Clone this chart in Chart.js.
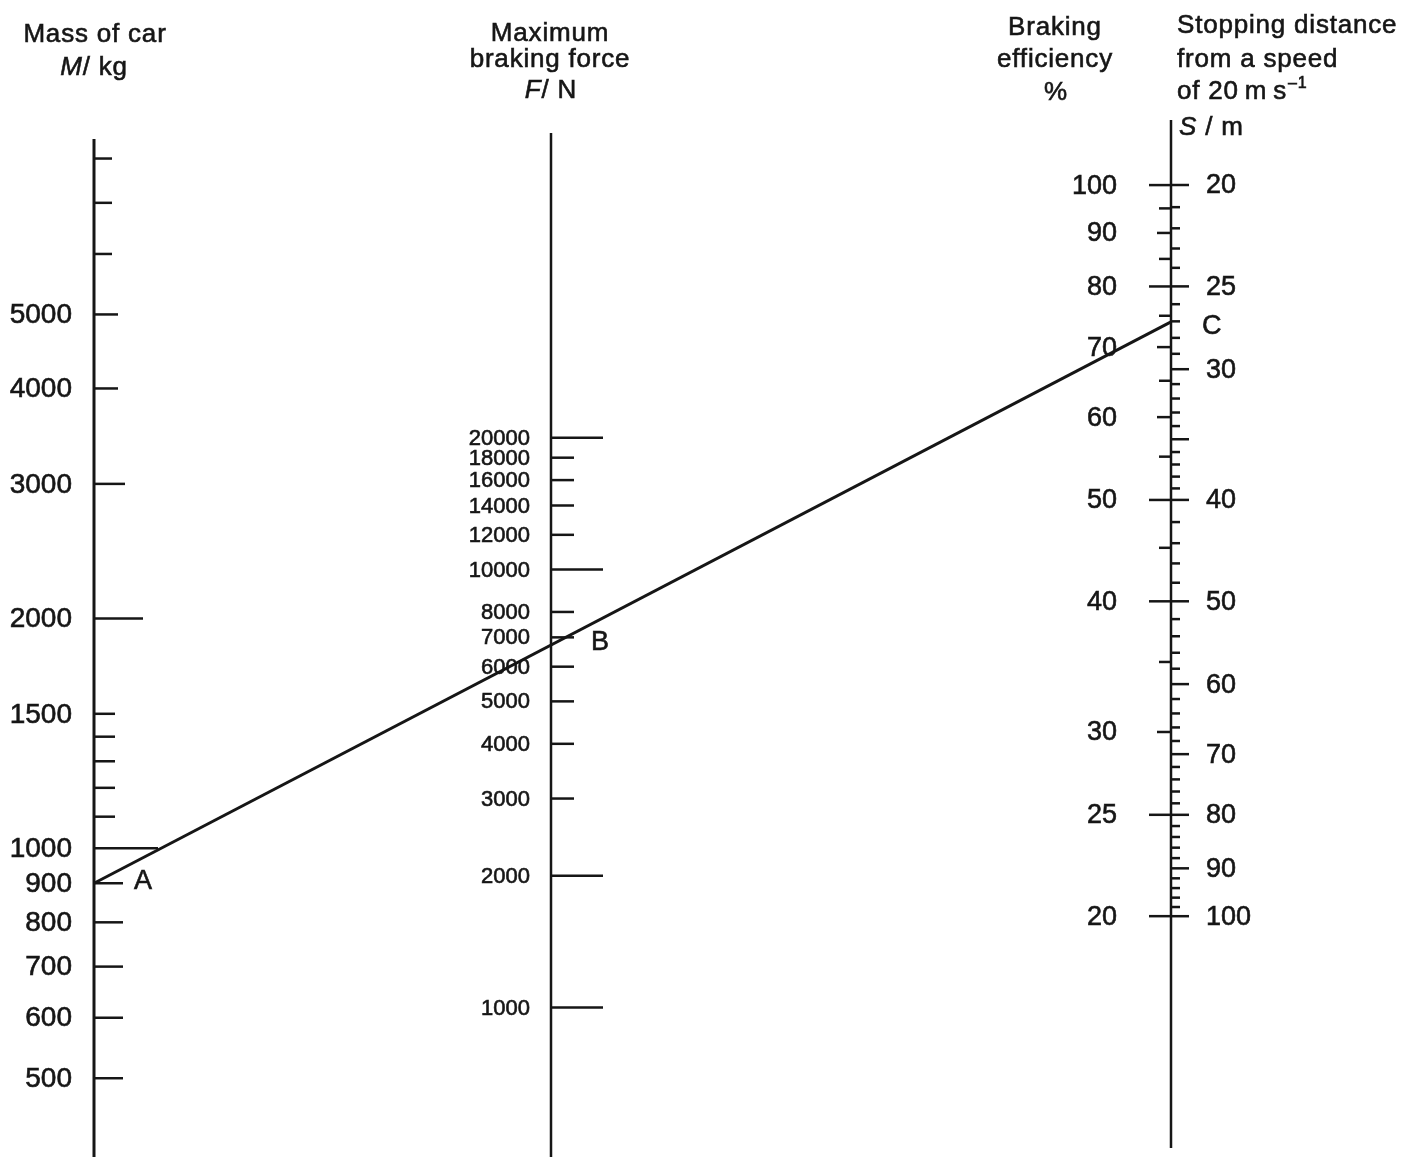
<!DOCTYPE html>
<html>
<head>
<meta charset="utf-8">
<script src="https://cdn.jsdelivr.net/npm/chart.js@4.4.0/dist/chart.umd.min.js"></script>
<style>
  html, body { margin: 0; padding: 0; background: #fff; }
  #wrap { width: 1422px; height: 1157px; }
</style>
</head>
<body>
<div id="wrap"><canvas id="nomo" width="1422" height="1157"></canvas></div>
<script>
// tick values for each scale of the nomogram
const massTicks = [500, 600, 700, 800, 900, 1000, 1100, 1200, 1300, 1400, 1500, 2000, 3000, 4000, 5000, 6000, 7000, 8000];
const massLabels = [500, 600, 700, 800, 900, 1000, 1500, 2000, 3000, 4000, 5000];
const forceTicks = [1000, 2000, 3000, 4000, 5000, 6000, 7000, 8000, 10000, 12000, 14000, 16000, 18000, 20000];
const forceLabels = [1000, 2000, 3000, 4000, 5000, 6000, 7000, 8000, 10000, 12000, 14000, 16000, 18000, 20000];
const effTicks = [20, 25, 30, 35, 40, 45, 50, 55, 60, 65, 70, 75, 80, 85, 90, 95, 100];
const effLabels = [20, 25, 30, 40, 50, 60, 70, 80, 90, 100];
const distTicks = [20, 21, 22, 23, 24, 25, 26, 27, 28, 29, 30, 31, 32, 33, 34, 35, 36, 37, 38, 39, 40,
  42, 44, 46, 48, 50, 52, 54, 56, 58, 60, 62, 64, 66, 68, 70, 72, 74, 76, 78, 80,
  82, 84, 86, 88, 90, 92, 94, 96, 98, 100];
const distLabels = [20, 25, 30, 40, 50, 60, 70, 80, 90, 100];

// the worked example line A -> B -> C
const lineMass = 900;   // A
const lineEff = 74;     // C (S ≈ 27 m)

const FONT = '"Liberation Sans", Arial, Helvetica, sans-serif';
const INK = '#161616';
const axisX = { mass: 94, force: 551, right: 1171 };

function hline(ctx, y, x0, x1) {
  ctx.beginPath();
  ctx.moveTo(x0, y);
  ctx.lineTo(x1, y);
  ctx.stroke();
}

// scanned print looks a little heavier than plain canvas text
function ink(ctx, text, x, y) {
  ctx.fillText(text, x, y);
  ctx.strokeText(text, x, y);
}

function mixedText(ctx, parts, x, y, align, size) {
  const fonts = parts.map(p => (p[1] ? 'italic ' : '') + size + 'px ' + FONT);
  const widths = parts.map((p, i) => { ctx.font = fonts[i]; return ctx.measureText(p[0]).width; });
  const total = widths.reduce((a, b) => a + b, 0);
  let cx = align === 'center' ? x - total / 2 : x;
  ctx.textAlign = 'left';
  parts.forEach((p, i) => {
    ctx.font = fonts[i];
    ink(ctx, p[0], cx, y);
    cx += widths[i];
  });
}

const nomogram = {
  id: 'nomogram',
  beforeDraw(chart) {
    const ctx = chart.ctx;
    ctx.save();
    ctx.fillStyle = '#fff';
    ctx.fillRect(0, 0, chart.width, chart.height);
    ctx.restore();
  },
  afterDraw(chart) {
    const ctx = chart.ctx;
    const sx = chart.scales.x;
    const yM = chart.scales.yM, yF = chart.scales.yF, yE = chart.scales.yE, yS = chart.scales.yS;
    const xm = sx.getPixelForValue(axisX.mass);
    const xf = sx.getPixelForValue(axisX.force);
    const xr = sx.getPixelForValue(axisX.right);

    ctx.save();
    ctx.strokeStyle = INK;
    ctx.fillStyle = INK;
    ctx.lineCap = 'butt';

    // axis lines
    ctx.lineWidth = 3;
    ctx.beginPath(); ctx.moveTo(xm, 139); ctx.lineTo(xm, 1157); ctx.stroke();
    ctx.lineWidth = 2.5;
    ctx.beginPath(); ctx.moveTo(xf, 133); ctx.lineTo(xf, 1157); ctx.stroke();
    ctx.beginPath(); ctx.moveTo(xr, 120); ctx.lineTo(xr, 1148); ctx.stroke();

    // mass ticks
    ctx.lineWidth = 2.5;
    massTicks.forEach(v => {
      let len = 21;
      if (v === 1000) len = 64;
      else if (v === 2000) len = 49;
      else if (v === 3000) len = 31;
      else if (v < 1000) len = 29;
      else if (v === 4000 || v === 5000) len = 24;
      else if (v > 5000) len = 18;
      hline(ctx, yM.getPixelForValue(v), xm, xm + len);
    });

    // force ticks
    forceTicks.forEach(v => {
      const long = [1000, 2000, 10000, 20000].includes(v);
      hline(ctx, yF.getPixelForValue(v), xf, xf + (long ? 52 : 23));
    });

    // efficiency ticks (left side of right axis)
    effTicks.forEach(v => {
      let len = 12;
      if ([100, 80, 50, 40, 25, 20].includes(v)) len = 22;
      else if (effLabels.includes(v)) len = 14;
      hline(ctx, yE.getPixelForValue(v), xr - len, xr);
    });
    // stopping distance ticks (right side)
    distTicks.forEach(v => {
      const len = (distLabels.includes(v) || v === 35) ? 18 : 9;
      hline(ctx, yS.getPixelForValue(v), xr, xr + len);
    });

    // worked line A-C
    const ax = xm, ay = yM.getPixelForValue(lineMass);
    const cx = xr, cy = yE.getPixelForValue(lineEff);
    ctx.lineWidth = 3;
    ctx.beginPath(); ctx.moveTo(ax, ay); ctx.lineTo(cx, cy); ctx.stroke();
    const by = ay + (cy - ay) * (xf - ax) / (cx - ax);

    // tick labels
    ctx.lineWidth = 0.6;
    ctx.textBaseline = 'middle';
    ctx.font = '28px ' + FONT;
    ctx.textAlign = 'right';
    massLabels.forEach(v => ink(ctx, String(v), xm - 22, yM.getPixelForValue(v) + 1));
    ctx.font = '22px ' + FONT;
    forceLabels.forEach(v => ink(ctx, String(v), xf - 21, yF.getPixelForValue(v) + 1));
    ctx.font = '27px ' + FONT;
    effLabels.forEach(v => ink(ctx, String(v), xr - 54, yE.getPixelForValue(v) + 1));
    ctx.textAlign = 'left';
    distLabels.forEach(v => ink(ctx, String(v), xr + 35, yS.getPixelForValue(v) + 1));

    ctx.font = '27px ' + FONT;
    ink(ctx, 'A', ax + 40, ay - 2);
    ink(ctx, 'B', xf + 40, by - 2);
    ink(ctx, 'C', cx + 31, cy + 5);

    // headings
    ctx.textBaseline = 'alphabetic';
    ctx.letterSpacing = '0.8px';
    ctx.font = '26px ' + FONT;
    ctx.textAlign = 'center';
    ink(ctx, 'Mass of car', 95, 42);
    mixedText(ctx, [['M', true], ['/ kg', false]], 94, 75, 'center', 26);

    ctx.font = '26px ' + FONT;
    ctx.textAlign = 'center';
    ink(ctx, 'Maximum', 550, 41);
    ink(ctx, 'braking force', 550, 67);
    mixedText(ctx, [['F', true], ['/ N', false]], 551, 98, 'center', 26);

    ctx.font = '26px ' + FONT;
    ctx.textAlign = 'center';
    ink(ctx, 'Braking', 1055, 35);
    ink(ctx, 'efficiency', 1055, 67);
    ink(ctx, '%', 1056, 100);

    ctx.textAlign = 'left';
    ink(ctx, 'Stopping distance', 1177, 33);
    ink(ctx, 'from a speed', 1177, 67);
    const base = 'of 20\u2009m\u2009s';
    ink(ctx, base, 1177, 99);
    const bw = ctx.measureText(base).width;
    ctx.font = '16px ' + FONT;
    ink(ctx, '\u20131', 1177 + bw + 1, 88);
    mixedText(ctx, [['S', true], [' / m', false]], 1179, 135, 'left', 26);

    ctx.restore();
  }
};

new Chart(document.getElementById('nomo'), {
  type: 'scatter',
  data: { datasets: [] },
  options: {
    responsive: false,
    animation: false,
    devicePixelRatio: 1,
    layout: { padding: 0 },
    plugins: { legend: { display: false }, tooltip: { enabled: false } },
    scales: {
      x: { type: 'linear', min: 0, max: 1422, display: false },
      yM: { axis: 'y', position: 'left', type: 'logarithmic', bounds: 'data', min: 394.3, max: 12902, display: false },
      yF: { axis: 'y', position: 'left', type: 'logarithmic', bounds: 'data', min: 455.8, max: 199600, display: false },
      yE: { axis: 'y', position: 'right', type: 'logarithmic', bounds: 'data', min: 11.77, max: 150.3, display: false },
      yS: { axis: 'y', position: 'right', type: 'logarithmic', bounds: 'data', reverse: true, min: 13.31, max: 169.9, display: false }
    }
  },
  plugins: [nomogram]
});
</script>
</body>
</html>
